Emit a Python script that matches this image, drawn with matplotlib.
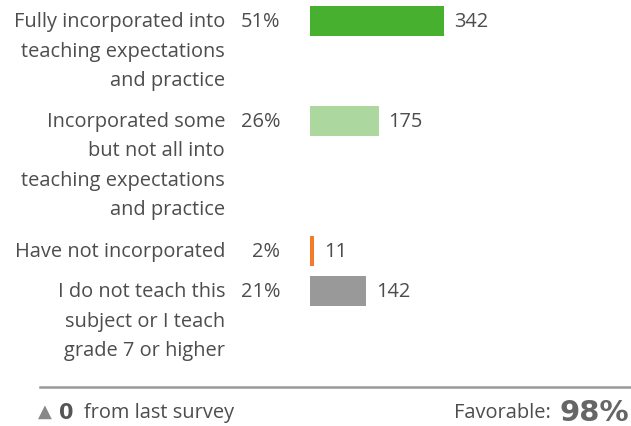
import matplotlib
matplotlib.use("Agg")
import matplotlib.pyplot as plt
from matplotlib.transforms import blended_transform_factory

categories = [
    "Fully incorporated into\nteaching expectations\nand practice",
    "Incorporated some\nbut not all into\nteaching expectations\nand practice",
    "Have not incorporated",
    "I do not teach this\nsubject or I teach\ngrade 7 or higher",
]
counts = [342, 175, 11, 142]
percents = ["51%", "26%", "2%", "21%"]
colors = ["#48b02f", "#acd8a0", "#f47b2a", "#999999"]
change_text = "0"
favorable = "98%"

W, H = 631, 426
FONT = "Open Sans"
TXT = "#4d4d4d"
FS = 14.4
fig = plt.figure(figsize=(W / 100, H / 100), dpi=100)
fig.patch.set_facecolor("white")

ax_left = 310
ax = fig.add_axes([ax_left / W, 0, (W - ax_left) / W, 1])
ax.set_xlim(0, (W - ax_left) / 0.392)
ax.set_ylim(H, 0)
ax.axis("off")

row_y = [21, 121, 251, 291]
ax.barh(row_y, counts, height=30, color=colors, left=0)

trans = blended_transform_factory(fig.transFigure, ax.transData)
line_h = 29.5
dy = 1.0
for y, cat, pct, c in zip(row_y, categories, percents, counts):
    for i, line in enumerate(cat.split("\n")):
        ax.text(225 / W, y + dy + i * line_h, line, transform=trans, ha="right",
                va="center", fontsize=FS, color=TXT, family=FONT)
    ax.text(280 / W, y + dy, pct, transform=trans, ha="right", va="center",
            fontsize=FS, color=TXT, family=FONT)
    ax.annotate(str(c), xy=(c, y + dy), xytext=(10, 0), textcoords="offset pixels",
                ha="left", va="center", fontsize=FS, color=TXT, family=FONT)

# separator line
fig.add_artist(plt.Line2D([40 / W, 1], [1 - 387 / H, 1 - 387 / H],
                          color="#999999", lw=1.8, transform=fig.transFigure))

fy = 1 - 413 / H
fig.text(38 / W, fy + 0.002, "\u25b2", fontsize=13, color="#888888", va="center",
         ha="left", family="DejaVu Sans")
fig.text(59 / W, fy, change_text, fontsize=15, fontweight="bold", color="#555555",
         va="center", ha="left", family="DejaVu Sans")
fig.text(84 / W, fy, "from last survey", fontsize=FS, color=TXT, va="center",
         ha="left", family=FONT)
fig.text(629 / W, fy, favorable, fontsize=21, fontweight="bold", color="#666666",
         va="center", ha="right", family="DejaVu Sans")
fig.text(551 / W, fy, "Favorable:", fontsize=FS, color=TXT, va="center",
         ha="right", family=FONT)

fig.savefig("out.png", dpi=100, facecolor="white")
